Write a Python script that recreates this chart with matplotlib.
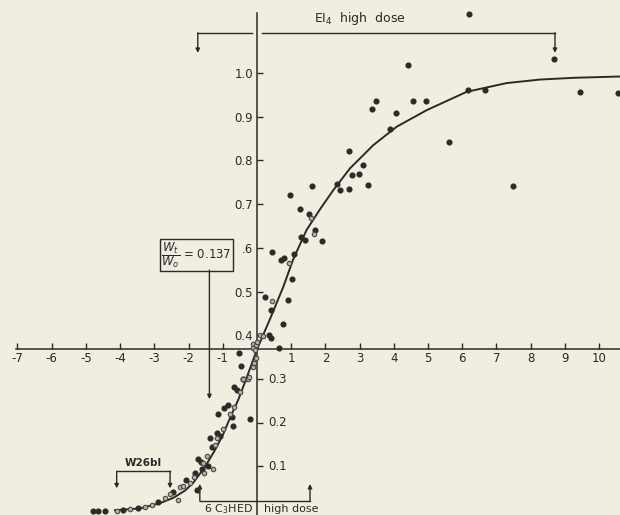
"""S-shaped growth curve with scattered observations, redrawn from an old print."""

import matplotlib.pyplot as plt

INK = "#2b2a28"
PAPER = "#f1ede1"
OPEN_FACE = "#b8b4a9"

# x ticks and y ticks of the hand-drawn axes
x_ticks = list(range(-7, 11))
x_tick_labels = [str(t) if t != 0 else "" for t in x_ticks]
y_ticks_left = [0.4, 0.5, 0.6, 0.7, 0.8, 0.9, 1.0]
y_tick_labels_left = ["0.4", "0.5", ".6", "0.7", "0.8", "0.9", "1.0"]
y_ticks_right = [0.1, 0.2, 0.3]
y_tick_labels_right = ["0.1", "0.2", "0.3"]
x_axis_level = 0.368

# fitted curve
curve_x = [-4.15, -3.42, -2.84, -2.45, -2.10, -1.86, -1.52, -1.23, -0.98, -0.77,
           -0.55, -0.35, -0.17, 0.0, 0.38, 0.77, 1.06, 1.45, 1.84, 2.23,
           2.72, 3.40, 4.08, 4.96, 6.13, 7.30, 8.27, 9.25, 10.61]
curve_y = [0.0, 0.004, 0.016, 0.028, 0.045, 0.063, 0.099, 0.137, 0.175, 0.214,
           0.252, 0.293, 0.331, 0.368, 0.437, 0.511, 0.574, 0.641, 0.688, 0.732,
           0.782, 0.835, 0.877, 0.915, 0.957, 0.977, 0.985, 0.989, 0.992]

# solid dots
solid_x = [0.43, 0.23, 0.41, 0.69, 0.80, 1.07, 0.98, 1.26, 0.90, 1.03,
           1.29, 1.41, 1.51, 1.61, 1.69, 1.89, 2.35, 2.43, 2.68, 2.68,
           2.78, 2.97, 3.11, 3.25, 3.36, 3.49, 3.89, 4.07, 4.42, 4.55,
           4.94, 5.60, 6.18, 6.67, 7.48, 8.68, 9.44, 10.54, 6.19,
           0.75, 0.64, 0.36, 0.41, -0.52, -0.47, -0.20,
           -0.42, -0.66, -0.59, -0.84, -0.96, -1.13, -0.74, -0.71, -1.16, -1.08,
           -1.37, -1.32, -1.72, -1.65, -1.42, -1.62, -1.81, -2.06, -1.76, -2.45,
           -2.89, -3.47, -3.91, -4.44, -4.64, -4.80]
solid_y = [0.590, 0.487, 0.458, 0.572, 0.576, 0.585, 0.720, 0.689, 0.481, 0.528,
           0.624, 0.617, 0.678, 0.741, 0.641, 0.616, 0.746, 0.732, 0.735, 0.822,
           0.767, 0.770, 0.790, 0.744, 0.917, 0.936, 0.872, 0.908, 1.018, 0.936,
           0.936, 0.842, 0.961, 0.961, 0.741, 1.032, 0.956, 0.955, 1.136,
           0.425, 0.370, 0.401, 0.395, 0.360, 0.330, 0.208,
           0.299, 0.281, 0.275, 0.240, 0.233, 0.220, 0.214, 0.192, 0.177, 0.169,
           0.164, 0.145, 0.116, 0.111, 0.101, 0.095, 0.084, 0.069, 0.047, 0.042,
           0.019, 0.004, 0.0, -0.002, -0.002, -0.002]

# open circles
open_x = [0.45, 0.95, 1.57, 1.67,
          0.09, 0.18, -0.11, -0.03, -0.13, -0.06, -0.01, -0.03, -0.09, -0.13,
          -0.33, -0.27, -0.22, -0.40, -0.66, -1.18, -1.23, -1.57, -1.28, -1.55,
          -1.96, -2.25, -2.54, -2.69, -2.30, -3.08, -3.27, -3.71, -4.10,
          -0.50, -0.80, -1.00, -1.45, -1.85, -2.15]
open_y = [0.479, 0.566, 0.669, 0.632,
          0.400, 0.398, 0.381, 0.378, 0.370, 0.366, 0.385, 0.347, 0.336, 0.328,
          0.301, 0.301, 0.305, 0.301, 0.236, 0.164, 0.149, 0.107, 0.095, 0.084,
          0.062, 0.053, 0.038, 0.027, 0.023, 0.011, 0.008, 0.002, -0.002,
          0.270, 0.220, 0.185, 0.125, 0.075, 0.055]

plt.rcParams["font.family"] = "DejaVu Sans"
fig = plt.figure(figsize=(6.2, 5.15), dpi=100, facecolor=PAPER)
ax = fig.add_axes([0, 0, 1, 1], facecolor=PAPER)
ax.set_xlim(-7.51, 10.61)
ax.set_ylim(-0.011, 1.167)

# axes crossing at (0, 0.368)
for side in ("top", "right"):
    ax.spines[side].set_visible(False)
ax.spines["bottom"].set_position(("data", x_axis_level))
ax.spines["left"].set_position(("data", 0))
ax.spines["bottom"].set_bounds(-7.05, 10.61)
ax.spines["left"].set_bounds(-0.011, 1.137)
for side in ("bottom", "left"):
    ax.spines[side].set_color(INK)
    ax.spines[side].set_linewidth(1.1)

ax.set_xticks(x_ticks)
ax.set_xticklabels(x_tick_labels)
ax.tick_params(axis="x", direction="in", length=4, width=1, color=INK,
               labelcolor=INK, labelsize=8.5, pad=2)
ax.set_yticks(y_ticks_left + y_ticks_right)
ax.set_yticklabels(y_tick_labels_left + [""] * len(y_ticks_right))
ax.tick_params(axis="y", direction="in", length=4, width=1, color=INK,
               labelcolor=INK, labelsize=8.5, pad=3)
for v, lbl in zip(y_ticks_right, y_tick_labels_right):
    ax.text(0.32, v, lbl, ha="left", va="center", fontsize=8.5, color=INK)

# curve and observations
ax.plot(curve_x, curve_y, color=INK, lw=1.4, zorder=3)
ax.plot(solid_x, solid_y, "o", ms=3.4, color=INK, mec=INK, zorder=4)
ax.plot(open_x, open_y, "o", ms=3.2, mfc=OPEN_FACE, mec="#4a4844", mew=0.8,
        zorder=4)

arrow = dict(arrowstyle="-|>", color=INK, lw=1, mutation_scale=6,
             shrinkA=0, shrinkB=0)

# EI4 high dose bracket at the top
top_y, tip_y = 1.092, 1.046
ax.plot([-1.73, -0.15], [top_y, top_y], color=INK, lw=1)
ax.plot([0.15, 8.71], [top_y, top_y], color=INK, lw=1)
for xa in (-1.73, 8.71):
    ax.annotate("", xy=(xa, tip_y), xytext=(xa, top_y), arrowprops=arrow)
ax.text(3.0, 1.124, "EI$_4$  high  dose", ha="center", va="center",
        fontsize=9, color=INK)

# Wt/Wo box with arrow down
ax.text(-1.77, 0.584, r"$\dfrac{W_t}{W_o}$ = 0.137", ha="center", va="center",
        fontsize=8.5, color=INK,
        bbox=dict(boxstyle="square,pad=0.12", fc=PAPER, ec=INK, lw=1))
ax.annotate("", xy=(-1.39, 0.254), xytext=(-1.39, 0.549), arrowprops=arrow)

# W26bl bracket
ax.plot([-4.10, -2.54], [0.089, 0.089], color=INK, lw=1)
for xa in (-4.10, -2.54):
    ax.annotate("", xy=(xa, 0.050), xytext=(xa, 0.089), arrowprops=arrow)
ax.text(-3.32, 0.108, "W26bl", ha="center", va="center", fontsize=7.5,
        color=INK, fontweight="bold")

# 6 C3HED high dose bracket at the bottom
ax.plot([-1.67, 1.55], [0.021, 0.021], color=INK, lw=1)
for xa in (-1.67, 1.55):
    ax.annotate("", xy=(xa, 0.060), xytext=(xa, 0.021), arrowprops=arrow)
ax.text(-0.12, 0.003, "6 C$_3$HED", ha="right", va="center", fontsize=8,
        color=INK)
ax.text(0.2, 0.003, "high dose", ha="left", va="center", fontsize=8,
        color=INK)

fig.savefig("out.png", dpi=100, facecolor=PAPER)
